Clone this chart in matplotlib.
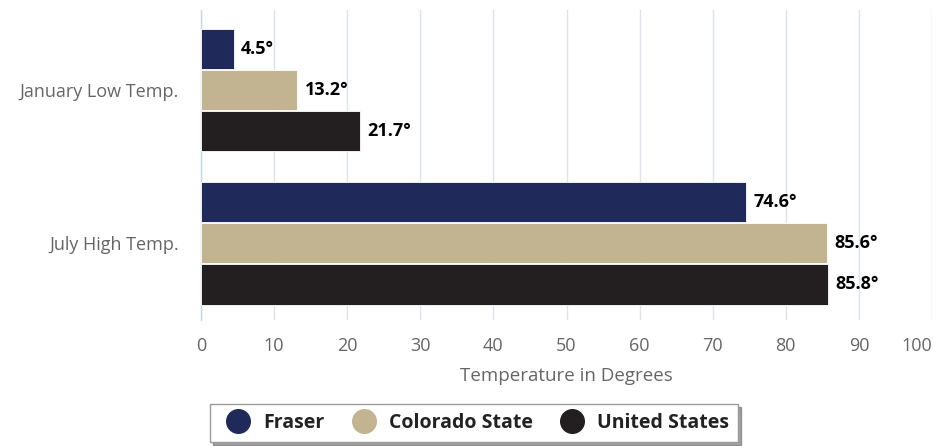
import numpy as np
import matplotlib
matplotlib.use('Agg')
import matplotlib.pyplot as plt
from matplotlib.lines import Line2D

categories = ['January Low Temp.', 'July High Temp.']
series = ['Fraser', 'Colorado State', 'United States']
values = {
    'Fraser': [4.5, 74.6],
    'Colorado State': [13.2, 85.6],
    'United States': [21.7, 85.8],
}
colors = ['#1f2a5a', '#c2b490', '#231f20']
xticks = [0, 10, 20, 30, 40, 50, 60, 70, 80, 90, 100]

plt.rcParams['font.family'] = ['Open Sans', 'DejaVu Sans']

fig = plt.figure(figsize=(9.43, 4.46), dpi=100)
ax = fig.add_axes([201/943, 1-320/446, 731/943, 310/446])

y = np.arange(len(categories))
h = 0.262
for i, (name, c) in enumerate(zip(series, colors)):
    ypos = y + (i - 1) * (h + 0.006)
    ax.barh(ypos, values[name], height=h, color=c, edgecolor='white', linewidth=0.6, zorder=3)
    for yy, v in zip(ypos, values[name]):
        ax.text(v + 1.0, yy, f'{v}°', va='center', ha='left', fontsize=13,
                fontweight='bold', color='black', zorder=4)

ax.set_ylim(1.5, -0.52)
ax.set_xlim(0, 100)
ax.set_yticks(y)
ax.set_yticklabels(categories, fontsize=13, color='#666666')
ax.set_xticks(xticks)
ax.set_xticklabels([str(t) for t in xticks], fontsize=13, color='#666666')
ax.get_xticklabels()[-1].set_horizontalalignment('right')
ax.tick_params(axis='both', length=0)
ax.tick_params(axis='x', pad=12)
ax.tick_params(axis='y', pad=16)
ax.grid(axis='x', color='#dfe2ea', linewidth=1, zorder=0)
for s in ['top', 'right', 'bottom']:
    ax.spines[s].set_visible(False)
ax.spines['left'].set_color('#c8d4e8')
ax.spines['left'].set_linewidth(1)
ax.set_xlabel('Temperature in Degrees', fontsize=13.5, color='#666666', labelpad=9)

handles = [Line2D([], [], marker='o', linestyle='none', markersize=17,
                  markerfacecolor=c, markeredgecolor=c) for c in colors]
leg = fig.legend(handles, series, loc='center', bbox_to_anchor=(474/943, 1-423/446),
                 ncol=3, frameon=True, fancybox=False, shadow=True,
                 prop={'weight': 'bold', 'size': 14}, handletextpad=0.3,
                 columnspacing=1.0, borderpad=0.45, edgecolor='#999999')
for t in leg.get_texts():
    t.set_color('#222222')

fig.savefig('out.png', dpi=100)
